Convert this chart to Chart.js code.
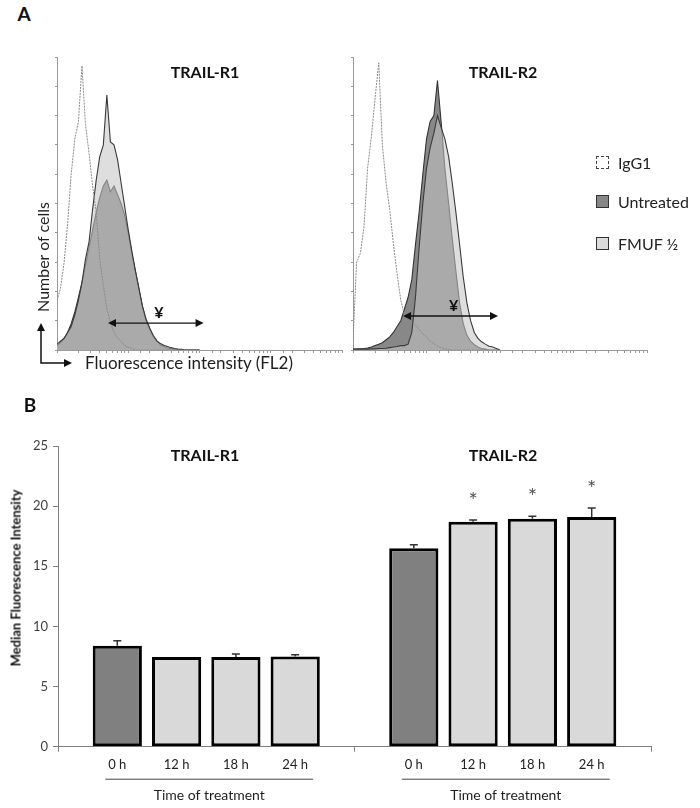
<!DOCTYPE html>
<html>
<head>
<meta charset="utf-8">
<title>TRAIL-R1 / TRAIL-R2 expression</title>
<script src="https://cdn.jsdelivr.net/npm/chart.js@4.4.0/dist/chart.umd.min.js"></script>
<style>
    body { margin: 0; background: #fff; }
    #page { position: relative; width: 700px; height: 808px; overflow: hidden; font-family: Lato, "Open Sans", sans-serif; color: #1e1e1e; }
    canvas { position: absolute; }
    .lbl { position: absolute; transform: translate(-50%, -50%); white-space: nowrap; line-height: 1; }
    .rot { transform: translate(-50%, -50%) rotate(-90deg); }
    .panel { font-weight: bold; font-size: 19px; color: #111; }
    .title { font-weight: bold; font-size: 16px; color: #111; }
    .leg { position: absolute; left: 596px; height: 18px; display: flex; align-items: center; font-size: 16px; color: #222; }
    .leg .box { width: 11px; height: 11px; margin-right: 9px; border: 1px solid #333; }
</style>
</head>
<body>
<div id="page">
    <canvas id="histR1" width="350" height="345" style="left:0;top:40px"></canvas>
    <canvas id="histR2" width="355" height="345" style="left:345px;top:40px"></canvas>
    <canvas id="mfiChart" width="700" height="418" style="left:0;top:390px"></canvas>

    <div class="lbl panel" style="left:24px;top:13px">A</div>
    <div class="lbl title" style="left:205px;top:72px">TRAIL-R1</div>
    <div class="lbl title" style="left:503px;top:72px">TRAIL-R2</div>
    <div class="lbl rot" style="left:43px;top:257px;font-size:16px">Number of cells</div>
    <div class="lbl" style="left:189px;top:362px;font-size:17px">Fluorescence intensity (FL2)</div>

    <div class="leg" style="top:153px"><span class="box" style="border:1px dashed #444;background:#fff"></span>IgG1</div>
    <div class="leg" style="top:192px"><span class="box" style="background:#888"></span>Untreated</div>
    <div class="leg" style="top:234px"><span class="box" style="background:#dcdcdc"></span>FMUF ½</div>

    <div class="lbl panel" style="left:30px;top:404px">B</div>
    <div class="lbl title" style="left:205px;top:455px">TRAIL-R1</div>
    <div class="lbl title" style="left:503px;top:455px">TRAIL-R2</div>
    <div class="lbl rot" style="left:16px;top:578px;font-size:13px;font-weight:bold;color:#111">Median Fluorescence Intensity</div>
</div>

<script>
Chart.defaults.font.family = 'Lato, "Open Sans", sans-serif';

// --- Panel A data: FL2 bins (log channel positions) and cell counts ---
let fl2Bins = [1, 1.12, 1.26, 1.41, 1.58, 1.78, 2.0, 2.24, 2.51, 2.82, 3.16, 3.55, 3.98, 4.47, 5.01, 5.62, 6.31, 7.08, 7.94, 8.91,
               10, 11.2, 12.6, 14.1, 15.8, 17.8, 20.0, 22.4, 25.1, 28.2, 31.6, 35.5, 39.8, 44.7, 50.1, 56.2, 63.1, 70.8, 79.4, 89.1, 100];

// TRAIL-R1
let r1IgG1     = [17, 21, 30, 43, 60, 72, 78, 97, 77, 67, 56, 47, 31, 22, 14, 9.5, 6, 4, 3, 1.5, 1, 0.5,
                  0, 0, 0, 0, 0, 0, 0, 0, 0, 0, 0, 0, 0, 0, 0, 0, 0, 0, 0];
let r1Untreated = [1.5, 2.5, 4, 6, 9, 13, 18, 23, 29, 35, 41, 47, 52, 56, 58, 54, 56, 53, 50, 46, 40, 33, 27, 21, 15,
                   10, 7, 4.5, 3, 1.8, 1.2, 0.7, 0.4, 0.2, 0, 0, 0, 0, 0, 0, 0];
let r1Fmuf      = [2, 3, 4, 6, 8, 12, 17, 23, 31, 37, 48, 58, 66, 70, 87, 71, 70, 65, 57, 49, 41, 34, 27, 21, 15,
                   10.5, 7.5, 5, 3.2, 2.2, 1.6, 1.2, 0.8, 0.5, 0.3, 0.2, 0, 0, 0, 0, 0];
let r1Gate = [5.2, 114];     // marker range (FL2)
let r1GateLevel = 9.2;

// TRAIL-R2
let r2IgG1      = [3, 30, 33, 42, 62, 73, 86, 98, 70, 57, 48, 36, 26, 17, 12, 10, 9.5, 8.5, 7, 5.5, 4.5, 3, 2.2, 1.3, 0.8,
                   0.4, 0.2, 0, 0, 0, 0, 0, 0, 0, 0, 0, 0, 0, 0, 0, 0];
let r2Untreated = [0.3, 0.3, 0.4, 0.5, 0.7, 1, 1.5, 2, 2.5, 3.5, 4.5, 6, 8, 10, 14, 18, 24, 36, 47, 60, 72, 78, 80, 92, 78,
                   62, 50, 38, 27, 16, 9, 5, 3, 1.8, 1, 0.5, 0.3, 0, 0, 0, 0];
let r2Fmuf      = [0.3, 0.3, 0.3, 0.3, 0.3, 0.4, 0.4, 0.5, 0.5, 0.6, 0.8, 1, 1.2, 1.5, 1.5, 2, 6, 18, 35, 50, 62, 69, 74, 80, 76,
                   72, 66, 57, 47, 36, 25, 16, 10, 6, 4, 2.8, 2, 1.3, 1, 0.5, 0];
let r2Gate = [4.8, 94];
let r2GateLevel = 11.6;

// --- Panel B data: median fluorescence intensity ---
let timeLabels = ['0 h', '12 h', '18 h', '24 h'];
let r1Mfi = [8.4, 7.45, 7.45, 7.5];
let r1Err = [0.4, 0, 0.25, 0.15];
let r1Sig = ['', '', '', ''];
let r2Mfi = [16.5, 18.7, 18.95, 19.1];
let r2Err = [0.3, 0.15, 0.2, 0.75];
let r2Sig = ['', '*', '*', '*'];
let yTicks = [0, 5, 10, 15, 20, 25];


// Arrow helper: filled head at (x, y) pointing in direction (dx, dy)
function arrowHead(ctx, x, y, dx, dy) {
    let len = 8, half = 4;
    ctx.beginPath();
    ctx.moveTo(x, y);
    ctx.lineTo(x - dx * len - dy * half, y - dy * len - dx * half);
    ctx.lineTo(x - dx * len + dy * half, y - dy * len + dx * half);
    ctx.closePath();
    ctx.fill();
}

// Marker range arrow with the ¥ sign
const gatePlugin = {
    id: 'gate',
    afterDatasetsDraw(chart, args, opts) {
        let { ctx, scales: { x, y } } = chart;
        let x1 = x.getPixelForValue(opts.range[0]);
        let x2 = x.getPixelForValue(opts.range[1]);
        let yy = y.getPixelForValue(opts.level);
        ctx.save();
        ctx.strokeStyle = '#111';
        ctx.fillStyle = '#111';
        ctx.lineWidth = 1.3;
        ctx.beginPath();
        ctx.moveTo(x1 + 4, yy);
        ctx.lineTo(x2 - 4, yy);
        ctx.stroke();
        arrowHead(ctx, x1, yy, -1, 0);
        arrowHead(ctx, x2, yy, 1, 0);
        ctx.font = 'bold 16px Lato, sans-serif';
        ctx.textAlign = 'center';
        ctx.textBaseline = 'alphabetic';
        ctx.fillText('¥', (x1 + x2) / 2 + 3, yy - 5);
        ctx.restore();
    }
};

// L-shaped axis arrows in the corner of the first histogram
const cornerArrowPlugin = {
    id: 'cornerArrow',
    afterDraw(chart) {
        let { ctx, chartArea } = chart;
        let cx = chartArea.left - 16, cy = chartArea.bottom + 13;
        ctx.save();
        ctx.strokeStyle = '#111';
        ctx.fillStyle = '#111';
        ctx.lineWidth = 1.5;
        ctx.beginPath();
        ctx.moveTo(cx, chartArea.bottom - 24);
        ctx.lineTo(cx, cy);
        ctx.lineTo(chartArea.left + 12, cy);
        ctx.stroke();
        arrowHead(ctx, cx, chartArea.bottom - 27, 0, -1);
        arrowHead(ctx, chartArea.left + 15, cy, 1, 0);
        ctx.restore();
    }
};

function histConfig(igg, untreated, fmuf, gate, level, axisWidth, padRight, extra) {
    return {
        type: 'line',
        data: {
            labels: fl2Bins,
            datasets: [
                { label: 'IgG1', data: igg, borderColor: '#8a8a8a', borderWidth: 1, borderDash: [2, 1], fill: false },
                { label: 'FMUF ½', data: fmuf, borderColor: '#3a3a3a', borderWidth: 1.1, backgroundColor: 'rgba(196,196,196,0.56)', fill: 'origin' },
                { label: 'Untreated', data: untreated, borderColor: '#333', borderWidth: 1.1, backgroundColor: '#888', fill: 'origin' }
            ]
        },
        options: {
            responsive: false,
            animation: false,
            layout: { padding: { top: 17, right: padRight, left: 0, bottom: 0 } },
            elements: { point: { radius: 0 }, line: { tension: 0 } },
            plugins: {
                legend: { display: false },
                tooltip: { enabled: false },
                gate: { range: gate, level: level }
            },
            scales: {
                x: {
                    type: 'logarithmic', min: 1, max: 10000,
                    ticks: { display: false },
                    grid: { drawOnChartArea: false, tickLength: 3, color: '#9a9a9a' },
                    border: { color: '#9a9a9a' },
                    afterFit: s => { s.height = 35; }
                },
                y: {
                    min: 0, max: 100,
                    ticks: { display: false, stepSize: 10 },
                    grid: { drawOnChartArea: false, tickLength: 2, color: '#9a9a9a' },
                    border: { color: '#9a9a9a' },
                    afterFit: s => { s.width = axisWidth; }
                }
            }
        },
        plugins: [gatePlugin].concat(extra)
    };
}

new Chart(document.getElementById('histR1'), histConfig(r1IgG1, r1Untreated, r1Fmuf, r1Gate, r1GateLevel, 57, 8, [cornerArrowPlugin]));
new Chart(document.getElementById('histR2'), histConfig(r2IgG1, r2Untreated, r2Fmuf, r2Gate, r2GateLevel, 8, 53, []));


// --- Panel B bar chart (one axis, gap slots between the two receptors) ---
let xLabels = [''].concat(timeLabels, [''], timeLabels, ['']);
let mfiValues = [null].concat(r1Mfi, [null], r2Mfi, [null]);
let mfiErrors = [null].concat(r1Err, [null], r2Err, [null]);
let mfiStars = [''].concat(r1Sig, [''], r2Sig, ['']);
let barColors = xLabels.map(l => l === '0 h' ? '#808080' : '#d9d9d9');

// Error bars, significance stars and the "Time of treatment" brackets
const mfiDecorPlugin = {
    id: 'mfiDecor',
    afterDatasetsDraw(chart) {
        let { ctx, chartArea, scales: { x, y } } = chart;
        ctx.save();
        ctx.strokeStyle = '#333';
        ctx.fillStyle = '#555';
        ctx.lineWidth = 1.5;
        ctx.font = '22px Lato, sans-serif';
        ctx.textAlign = 'center';
        ctx.textBaseline = 'alphabetic';
        mfiValues.forEach((v, i) => {
            if (v === null) return;
            let px = x.getPixelForValue(i);
            let e = mfiErrors[i] || 0;
            let top = y.getPixelForValue(v + e);
            if (e > 0) {
                ctx.beginPath();
                ctx.moveTo(px, y.getPixelForValue(v));
                ctx.lineTo(px, top);
                ctx.moveTo(px - 4, top);
                ctx.lineTo(px + 4, top);
                ctx.stroke();
            }
            if (mfiStars[i]) ctx.fillText(mfiStars[i], px, top - 12);
        });

        ctx.strokeStyle = '#444';
        ctx.lineWidth = 1;
        ctx.fillStyle = '#1e1e1e';
        ctx.font = '14px Lato, sans-serif';
        ctx.textBaseline = 'middle';
        [[1, 4], [6, 9]].forEach(([a, b]) => {
            let xa = x.getPixelForValue(a) - 12;
            let xb = x.getPixelForValue(b) + 18;
            let ly = chartArea.bottom + 32.5;
            ctx.beginPath();
            ctx.moveTo(xa, ly);
            ctx.lineTo(xb, ly);
            ctx.stroke();
            ctx.fillText('Time of treatment', (xa + xb) / 2, ly + 16);
        });
        ctx.restore();
    }
};

new Chart(document.getElementById('mfiChart'), {
    type: 'bar',
    data: {
        labels: xLabels,
        datasets: [{
            label: 'MFI',
            data: mfiValues,
            backgroundColor: barColors,
            borderColor: '#000',
            borderWidth: 3,
            borderSkipped: false,
            categoryPercentage: 1,
            barPercentage: 0.83
        }]
    },
    options: {
        responsive: false,
        animation: false,
        layout: { padding: { top: 56, right: 49, left: 0, bottom: 0 } },
        plugins: { legend: { display: false }, tooltip: { enabled: false } },
        scales: {
            x: {
                type: 'category',
                offset: false,
                grid: {
                    offset: false,
                    drawOnChartArea: false,
                    tickLength: 5,
                    color: c => (c.index % 5 === 0 ? '#808080' : 'rgba(0,0,0,0)')
                },
                border: { color: '#808080' },
                ticks: { autoSkip: false, maxRotation: 0, padding: 5, color: '#222', font: { size: 13 } },
                afterFit: s => { s.height = 61.3; }
            },
            y: {
                min: 0, max: 25,
                afterBuildTicks: s => { s.ticks = yTicks.map(v => ({ value: v })); },
                grid: { drawOnChartArea: false, tickLength: 5, color: '#808080' },
                border: { color: '#808080' },
                ticks: { padding: 5, color: '#404040', font: { size: 13 } },
                afterFit: s => { s.width = 58; }
            }
        }
    },
    plugins: [mfiDecorPlugin]
});
</script>
</body>
</html>
